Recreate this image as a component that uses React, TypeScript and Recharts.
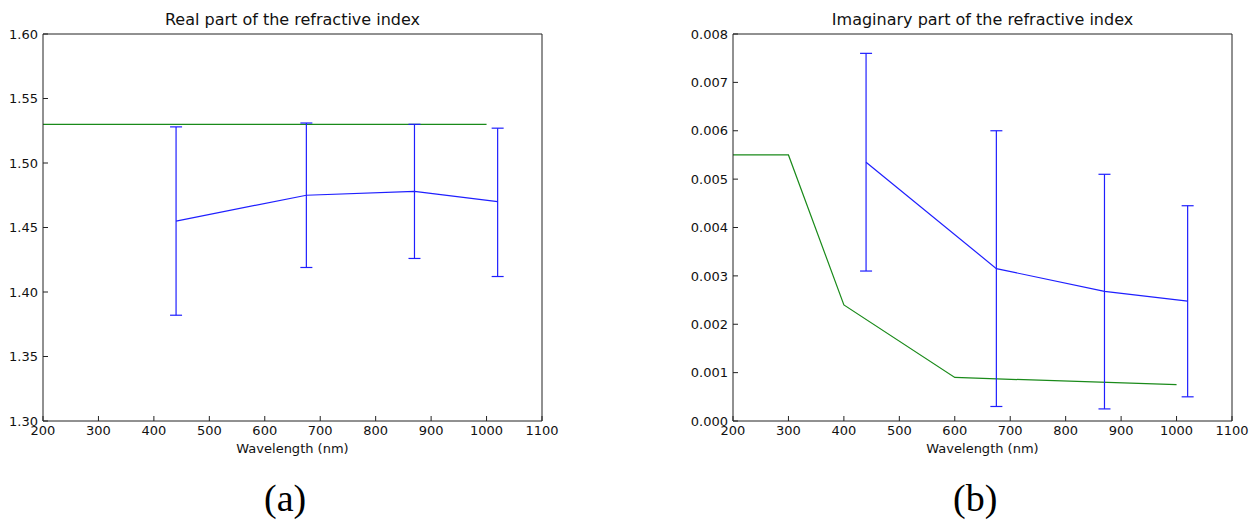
import { ComposedChart, ErrorBar, Line, XAxis, YAxis } from "recharts";

const wavelengthTicks = [200, 300, 400, 500, 600, 700, 800, 900, 1000, 1100];

// measured points (blue) shared by both panels
const measuredWavelengths = [440, 675, 870, 1020];

const realMeasured = [1.455, 1.475, 1.478, 1.47];
const realLower = [1.382, 1.419, 1.426, 1.412];
const realUpper = [1.528, 1.531, 1.53, 1.527];
const realModelWavelengths = [200, 1000];
const realModel = [1.53, 1.53];
const realTicks = [1.3, 1.35, 1.4, 1.45, 1.5, 1.55, 1.6];

const imagMeasured = [0.00535, 0.00315, 0.00268, 0.00248];
const imagLower = [0.0031, 0.0003, 0.00025, 0.0005];
const imagUpper = [0.0076, 0.006, 0.0051, 0.00445];
const imagModelWavelengths = [200, 300, 400, 600, 1000];
const imagModel = [0.0055, 0.0055, 0.0024, 0.0009, 0.00075];
const imagTicks = [0, 0.001, 0.002, 0.003, 0.004, 0.005, 0.006, 0.007, 0.008];

const FONT = "'DejaVu Sans', sans-serif";
const BLUE = "#1f1fff";
const GREEN = "#1a8a1a";
const FRAME = "#222";
const TICK = 5;

// matplotlib-style ticks: pointing into the plot on all four sides
const BottomTick = (p: any) => (
  <g>
    <line x1={p.x} x2={p.x} y1={p.y} y2={p.y - TICK} stroke={FRAME} />
    <text x={p.x} y={p.y + 4} dy="0.75em" textAnchor="middle" fill="#111" fontSize={13} fontFamily={FONT}>
      {p.payload.value}
    </text>
  </g>
);
const TopTick = (p: any) => <line x1={p.x} x2={p.x} y1={p.y} y2={p.y + TICK} stroke={FRAME} />;
const RightTick = (p: any) => <line x1={p.x} x2={p.x - TICK} y1={p.y} y2={p.y} stroke={FRAME} />;
const makeLeftTick = (digits: number) => (p: any) => (
  <g>
    <line x1={p.x} x2={p.x + TICK} y1={p.y} y2={p.y} stroke={FRAME} />
    <text x={p.x - 5} y={p.y} dy="0.36em" textAnchor="end" fill="#111" fontSize={13} fontFamily={FONT}>
      {Number(p.payload.value).toFixed(digits)}
    </text>
  </g>
);

interface PanelProps {
  left: number;
  title: string;
  yWidth: number;
  means: number[];
  lower: number[];
  upper: number[];
  modelX: number[];
  modelY: number[];
  yTicks: number[];
  digits: number;
}

function Panel({ left, title, yWidth, means, lower, upper, modelX, modelY, yTicks, digits }: PanelProps) {
  const measured = measuredWavelengths.map((x, i) => ({
    x,
    y: means[i],
    err: [means[i] - lower[i], upper[i] - means[i]],
  }));
  const model = modelX.map((x, i) => ({ x, y: modelY[i] }));
  const domain = [yTicks[0], yTicks[yTicks.length - 1]];
  const plotWidth = 499;
  const width = yWidth + plotWidth + 1 + 17;
  const plotCenter = yWidth + plotWidth / 2;

  return (
    <div style={{ position: "absolute", left, top: 0, width, height: 468 }}>
      <div
        style={{
          position: "absolute",
          left: plotCenter - 250,
          width: 500,
          top: 10,
          textAlign: "center",
          fontFamily: FONT,
          fontSize: 16,
          color: "#111",
        }}
      >
        {title}
      </div>
      <ComposedChart width={width} height={468} margin={{ top: 33, right: 17, bottom: 15, left: 0 }}>
        <XAxis
          xAxisId="bottom"
          type="number"
          dataKey="x"
          domain={[200, 1100]}
          ticks={wavelengthTicks}
          tickSize={0}
          tickMargin={0}
          tickLine={false}
          height={32}
          stroke={FRAME}
          tick={BottomTick}
          interval={0}
          label={{ value: "Wavelength (nm)", position: "insideBottom", offset: 0, style: { fill: "#111", fontSize: 13, fontFamily: FONT } }}
        />
        <XAxis
          xAxisId="top"
          orientation="top"
          type="number"
          dataKey="x"
          domain={[200, 1100]}
          ticks={wavelengthTicks}
          tickSize={0}
          tickMargin={0}
          tickLine={false}
          height={1}
          stroke={FRAME}
          tick={TopTick}
          interval={0}
        />
        <YAxis
          yAxisId="left"
          type="number"
          domain={domain}
          ticks={yTicks}
          tickSize={0}
          tickMargin={0}
          tickLine={false}
          width={yWidth}
          stroke={FRAME}
          tick={makeLeftTick(digits)}
          interval={0}
        />
        <YAxis
          yAxisId="right"
          orientation="right"
          type="number"
          domain={domain}
          ticks={yTicks}
          tickSize={0}
          tickMargin={0}
          tickLine={false}
          width={1}
          stroke={FRAME}
          tick={RightTick}
          interval={0}
        />
        <Line
          xAxisId="bottom"
          yAxisId="left"
          data={model}
          dataKey="y"
          stroke={GREEN}
          strokeWidth={1.2}
          dot={false}
          isAnimationActive={false}
        />
        <Line
          xAxisId="bottom"
          yAxisId="left"
          data={measured}
          dataKey="y"
          stroke={BLUE}
          strokeWidth={1.2}
          dot={false}
          isAnimationActive={false}
        >
          <ErrorBar dataKey="err" direction="y" width={6} stroke={BLUE} strokeWidth={1.2} isAnimationActive={false} />
        </Line>
      </ComposedChart>
    </div>
  );
}

export default function App() {
  return (
    <div style={{ position: "absolute", left: 0, top: 0, width: 1252, height: 523, background: "#fff" }}>
      <Panel
        left={0}
        title="Real part of the refractive index"
        yWidth={43}
        means={realMeasured}
        lower={realLower}
        upper={realUpper}
        modelX={realModelWavelengths}
        modelY={realModel}
        yTicks={realTicks}
        digits={2}
      />
      <Panel
        left={672}
        title="Imaginary part of the refractive index"
        yWidth={61}
        means={imagMeasured}
        lower={imagLower}
        upper={imagUpper}
        modelX={imagModelWavelengths}
        modelY={imagModel}
        yTicks={imagTicks}
        digits={3}
      />
      <div style={{ position: "absolute", left: 264, top: 476, fontFamily: "'Liberation Serif', serif", fontSize: 38 }}>(a)</div>
      <div style={{ position: "absolute", left: 953, top: 476, fontFamily: "'Liberation Serif', serif", fontSize: 38 }}>(b)</div>
    </div>
  );
}
